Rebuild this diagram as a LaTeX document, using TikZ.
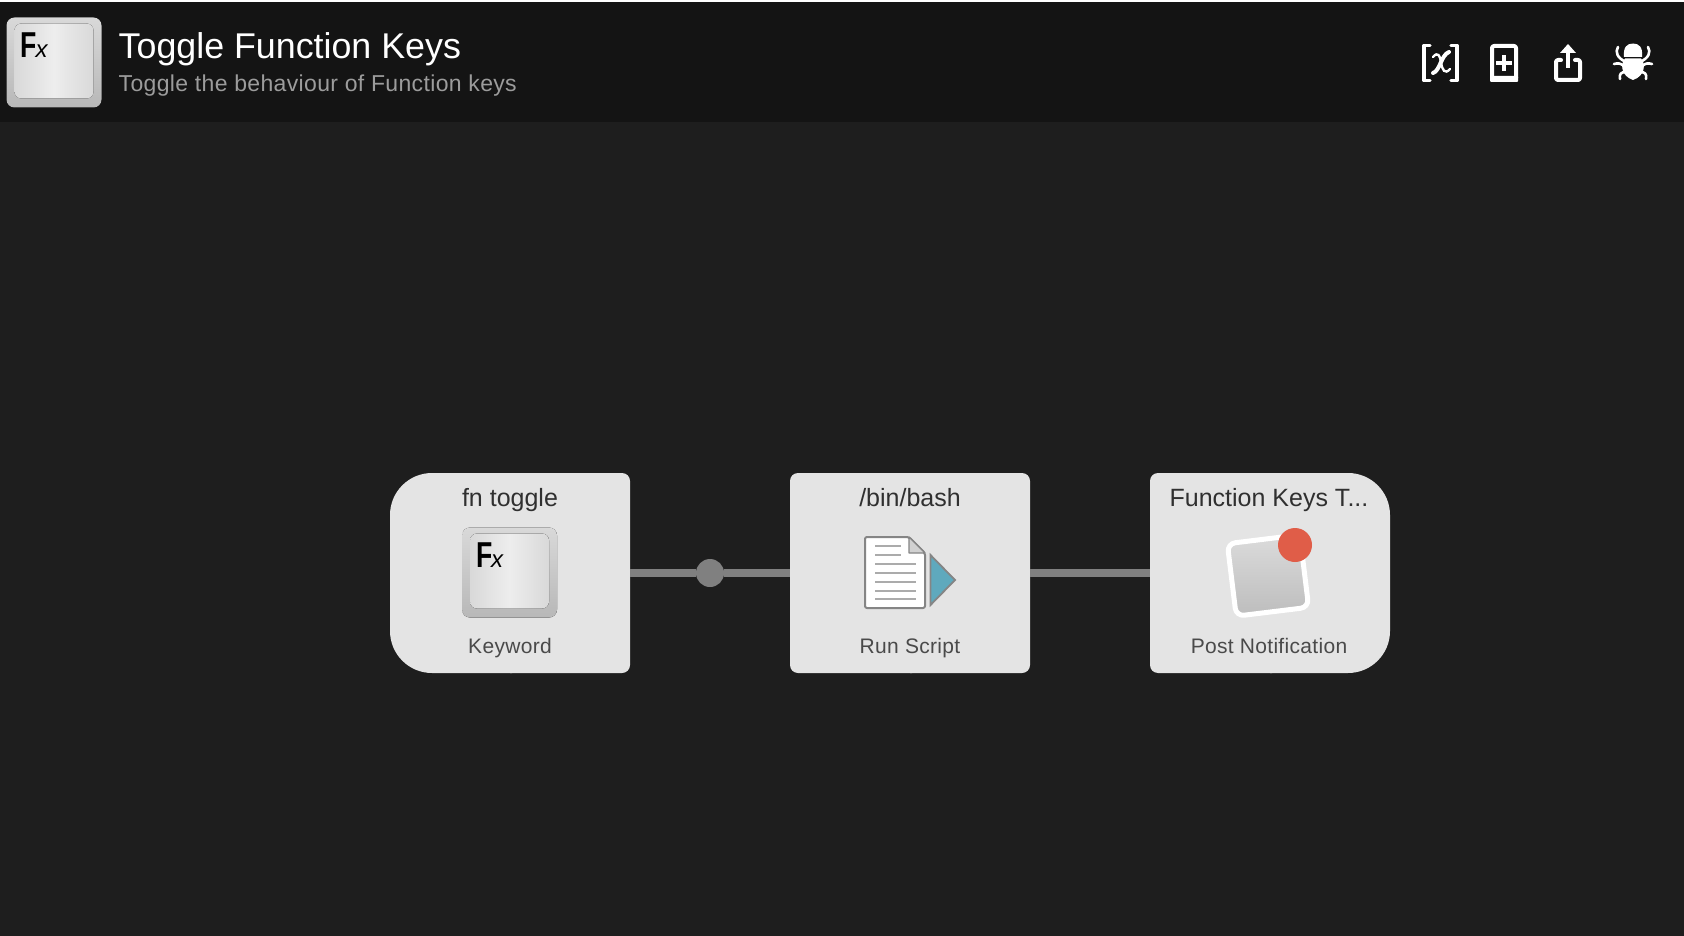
\documentclass[tikz,border=0pt]{standalone}
\usepackage{fontspec}
\setmainfont{Liberation Sans}
\newfontfamily\subfont[LetterSpace=1.5]{Liberation Sans}
\tikzset{
  x=1pt,y=-1pt,
  cardfill/.style={fill=cardbg},
  cardbox/.style={minimum width=240pt,minimum height=200pt,inner sep=0pt,outer sep=0pt,draw=none},
  link/.style={draw=linkgrey,line width=8pt},
  dotnode/.style={circle,fill=linkgrey,minimum size=28pt,inner sep=0pt,outer sep=0pt},
  cardtitle/.style={anchor=base,inner sep=0pt,text=titlegrey,font=\fontsize{25}{28}\selectfont},
  cardtype/.style={anchor=base,inner sep=0pt,text=typegrey,font=\subfont\fontsize{21}{24}\selectfont},
  iconline/.style={draw=white,line width=4pt,line cap=round,line join=round},
  leg/.style={draw=white,line width=2.6pt,line cap=round,line join=round},
  docline/.style={draw=lightline,line width=1.6pt},
  fxF/.style={anchor=base west,inner sep=0pt,xscale=.74,text=black,font=\bfseries\fontsize{36}{36}\selectfont},
  fxx/.style={anchor=base west,inner sep=0pt,text=black,font=\itshape\fontsize{24}{24}\selectfont},
}
\definecolor{pagebg}{HTML}{1E1E1E}
\definecolor{headbg}{HTML}{141414}
\definecolor{cardbg}{HTML}{E4E4E4}
\definecolor{linkgrey}{HTML}{808080}
\definecolor{titlegrey}{HTML}{303030}
\definecolor{typegrey}{HTML}{4A4A4A}
\definecolor{subgrey}{HTML}{9C9C9C}
\definecolor{lightline}{HTML}{ABABAB}
\definecolor{docedge}{HTML}{858585}
\definecolor{teal}{HTML}{5FA9BD}
\definecolor{notered}{HTML}{E05D48}
\newcommand{\cardshape}[3]{%
  \fill[cardfill,rounded corners=#2] ([xshift=2pt]#1.north) -- (#1.north west) -- (#1.south west) -- ([xshift=2pt]#1.south);
  \fill[cardfill,rounded corners=#3] (#1.north) -- (#1.north east) -- (#1.south east) -- (#1.south);
}
\newcommand{\keyicon}[3]{% x, y, prefix
  \begin{scope}[shift={(#1,#2)}]
    \fill[rounded corners=8pt,top color=black!15,bottom color=black!28] (0,0) rectangle (95,90);
    \fill[rounded corners=7pt,left color=black!15,right color=black!15,middle color=black!7] (8,6) rectangle (87,81);
    \node[fxF] (#3F) at (14,40) {F};
    \node[fxx] (#3x) at (29,40) {x};
  \end{scope}
}
\begin{document}
\begin{tikzpicture}
\useasboundingbox (0,0) rectangle (1684,936);
\fill[pagebg] (0,0) rectangle (1684,936);
\fill[headbg] (0,2) rectangle (1684,122);
\fill[white] (0,0) rectangle (1684,2);

% header
\keyicon{6.5}{17.5}{h}
\node[anchor=base west,inner sep=0pt,text=white,font=\fontsize{35.8}{40}\selectfont] (title) at (118.5,58.5) {Toggle Function Keys};
\node[anchor=base west,inner sep=0pt,text=subgrey,font=\subfont\fontsize{23}{26}\selectfont] (subtitle) at (118.5,92) {Toggle the behaviour of Function keys};

% [x] icon
\draw[iconline,line width=3.4pt] (1430,45.5) -- (1424,45.5) -- (1424,80.5) -- (1430,80.5);
\draw[iconline,line width=3.4pt] (1451,45.5) -- (1457,45.5) -- (1457,80.5) -- (1451,80.5);
\draw[draw=white,line width=4pt,line cap=round] (1433,73) .. controls (1440,71) and (1441,55) .. (1449,52);
\draw[draw=white,line width=2.4pt,line cap=round] (1433,57) .. controls (1438,51) and (1440,56) .. (1441,62) .. controls (1442,70) and (1445,75) .. (1450,69);

% add-document icon
\draw[iconline,line width=4pt,rounded corners=2pt] (1492,46) rectangle (1516,80);
\fill[white,rounded corners=1pt] (1490,76) rectangle (1518,82);
\fill[white] (1496,61) rectangle (1512,64.6);
\fill[white] (1502.2,54.8) rectangle (1505.8,70.8);

% share icon
\draw[iconline,rounded corners=2pt] (1561,60) -- (1556,60) -- (1556,80) -- (1580,80) -- (1580,60) -- (1575,60);
\draw[draw=white,line width=4pt] (1568,50) -- (1568,68);
\fill[white] (1568,44) -- (1576,53) -- (1560,53) -- cycle;

% bug icon
\fill[white] (1624,57) .. controls (1623,47) and (1627,43.5) .. (1633,43.5) .. controls (1639,43.5) and (1643,47) .. (1642,57) -- cycle;
\fill[white] (1625,58.5) -- (1641,58.5) .. controls (1646,64) and (1645,76) .. (1633,80) .. controls (1621,76) and (1620,64) .. (1625,58.5) -- cycle;
\draw[leg] (1618,47) .. controls (1615,52) and (1617,58) .. (1626,62);
\draw[leg] (1648,47) .. controls (1651,52) and (1649,58) .. (1640,62);
\draw[leg] (1614,64) .. controls (1618,63) and (1620,63) .. (1624,66);
\draw[leg] (1652,64) .. controls (1648,63) and (1646,63) .. (1642,66);
\draw[leg] (1620,79) .. controls (1619,74) and (1621,72) .. (1626,72);
\draw[leg] (1646,79) .. controls (1647,74) and (1645,72) .. (1640,72);

% cards
\node[cardbox] (n1) at (510,573) {};
\node[cardbox] (n2) at (910,573) {};
\node[cardbox] (n3) at (1270,573) {};
\cardshape{n1}{42pt}{8pt}
\cardshape{n2}{8pt}{8pt}
\cardshape{n3}{8pt}{42pt}

% connectors
\node[dotnode] (d1) at (710,573) {};
\draw[link] (n1.east) -- (d1);
\draw[link] (d1) -- (n2.west);
\draw[link] (n2.east) -- (n3.west);

% labels
\node[cardtitle] (t1) at (510,506.5) {fn toggle};
\node[cardtitle] (t2) at (910,506.5) {/bin/bash};
\node[cardtitle] (t3) at (1269,506.5) {Function Keys T...};
\node[cardtype] (s1) at (510,653) {Keyword};
\node[cardtype] (s2) at (910,653) {Run Script};
\node[cardtype] (s3) at (1269,653) {Post Notification};

% keyword icon
\keyicon{462}{527.5}{k}

% run script icon
\draw[draw=docedge,fill=white,line width=2pt,line join=round,rounded corners=2pt] (865,537) -- (909,537) -- (925,553) -- (925,608) -- (865,608) -- cycle;
\fill[black!18,draw=docedge,line width=1.4pt,line join=round] (909,537) -- (925,553) -- (909,553) -- cycle;
\foreach \yy/\xe in {546/900.5,555/900.5,564/916,573/916,582/916,591/916,599/916}{
  \draw[docline] (875,\yy) -- (\xe,\yy);
}
\fill[teal,draw=docedge,line width=1.8pt,line join=miter] (930.5,555) -- (955,580) -- (930.5,605) -- cycle;

% post notification icon
\begin{scope}[shift={(1268,575.5)},rotate=7]
  \fill[rounded corners=8pt,top color=black!14,bottom color=black!26] (-37,-37) rectangle (37,37);
  \draw[white,line width=5pt,rounded corners=8pt] (-36.5,-36.5) rectangle (36.5,36.5);
\end{scope}
\fill[notered] (1295,545) circle[radius=17pt];
\end{tikzpicture}
\end{document}
